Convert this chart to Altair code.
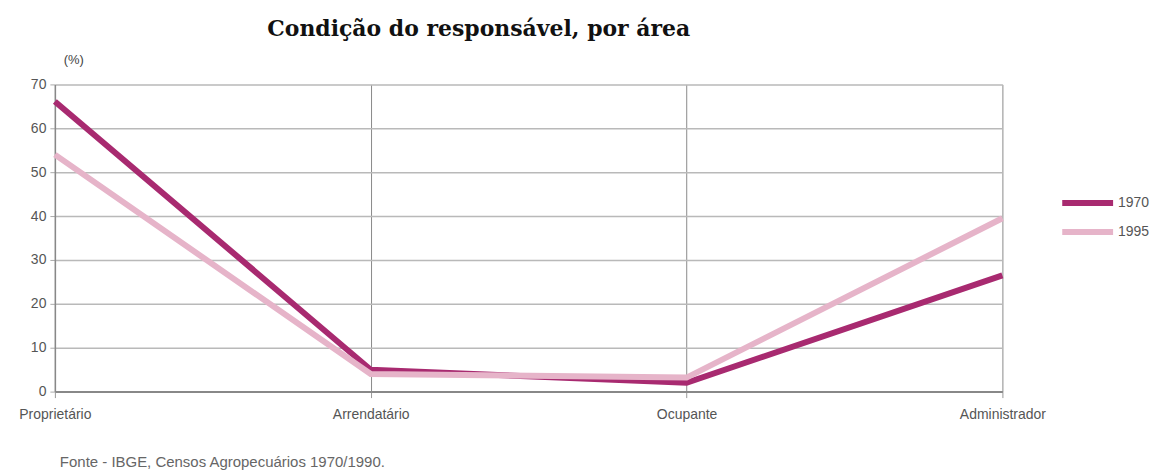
import altair as alt
import pandas as pd

categories = ["Proprietário", "Arrendatário", "Ocupante", "Administrador"]
v1970 = [66.1, 5.0, 2.0, 26.5]
v1995 = [54.0, 4.0, 3.2, 39.5]
series = ["1970", "1995"]
y_ticks = [0, 10, 20, 30, 40, 50, 60, 70]

rows = []
for i, c in enumerate(categories):
    rows.append({"cat": c, "serie": "1970", "valor": v1970[i], "ord": 0})
    rows.append({"cat": c, "serie": "1995", "valor": v1995[i], "ord": 1})
df = pd.DataFrame(rows)

W, H = 950, 308

x_enc = alt.X("cat:N", sort=categories,
              scale=alt.Scale(type="point", padding=0),
              axis=alt.Axis(title=None, labelAngle=0, labelFont="Liberation Sans",
                            labelFontSize=14, labelColor="#555555", labelPadding=10,
                            grid=True, gridColor="#8a8a8a", gridWidth=1,
                            domain=True, domainColor="#888888", domainWidth=2,
                            ticks=True, tickColor="#999999", tickSize=6,
                            labelAlign="center"))
y_enc = alt.Y("valor:Q", scale=alt.Scale(domain=[0, 70], nice=False),
              axis=alt.Axis(title=None, values=y_ticks, labelFont="Liberation Sans",
                            labelFontSize=14, labelColor="#555555", labelPadding=4,
                            grid=True, gridColor="#b9b9b9", gridWidth=1.5,
                            domain=True, domainColor="#888888", domainWidth=1.5,
                            tickColor="#aaaaaa", tickSize=5))

lines = alt.Chart(df).mark_line(strokeWidth=6, strokeCap="butt", strokeJoin="miter").encode(
    x=x_enc,
    y=y_enc,
    color=alt.Color("serie:N", sort=series,
                    scale=alt.Scale(domain=series, range=["#a82a70", "#e6b4c9"]),
                    legend=alt.Legend(title=None, orient="none", legendX=1007, legendY=112,
                                      symbolType="stroke", symbolStrokeWidth=6,
                                      symbolSize=2600, clipHeight=14, rowPadding=15,
                                      labelFont="Liberation Sans", labelFontSize=14,
                                      labelColor="#555555", labelOffset=2)),
    order=alt.Order("ord:Q"),
    detail="serie:N",
)

ann = pd.DataFrame({"t": ["x"]})
title = alt.Chart(ann).mark_text(text="Condição do responsável, por área", font="DejaVu Serif",
                                 fontSize=22, fontWeight="bold", color="#111111",
                                 align="center", baseline="alphabetic").encode(
    x=alt.value(425), y=alt.value(-49))
pct = alt.Chart(ann).mark_text(text="(%)", font="Liberation Sans", fontSize=13,
                               color="#444444", align="center", baseline="middle").encode(
    x=alt.value(19), y=alt.value(-24))
fonte = alt.Chart(ann).mark_text(text="Fonte - IBGE, Censos Agropecuários 1970/1990.",
                                 font="Liberation Sans", fontSize=15, color="#666666",
                                 align="left", baseline="middle").encode(
    x=alt.value(5), y=alt.value(379))

chart = alt.layer(lines, title, pct, fonte).properties(
    width=W, height=H,
    autosize=alt.AutoSizeParams(type="none"),
    padding={"left": 47, "top": 76, "right": 150, "bottom": 80},
    background="white",
).configure_view(stroke=None)

chart.save("out.html", embed_options={"renderer": "svg", "actions": False})
